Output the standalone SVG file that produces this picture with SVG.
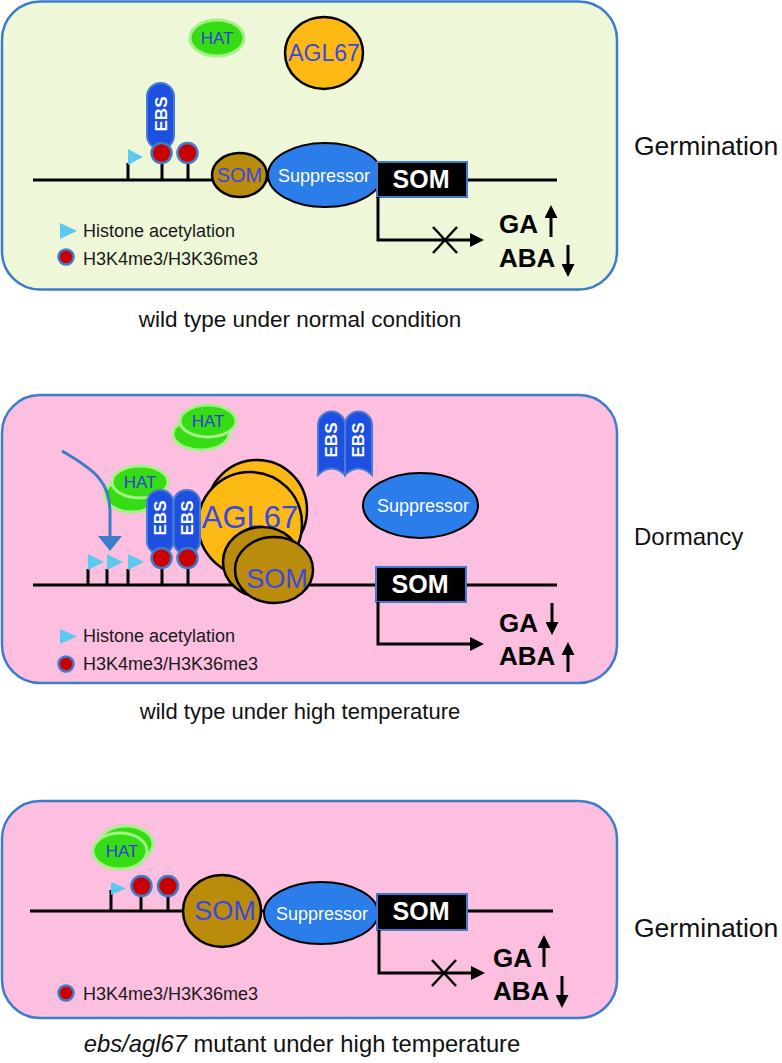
<svg xmlns="http://www.w3.org/2000/svg" width="782" height="1063" viewBox="0 0 782 1063">
<style>
text{font-family:"Liberation Sans",Arial,sans-serif}
.panelA{fill:#eef8d9;stroke:#3d7cc9;stroke-width:2.5}
.panelB{fill:#fcbfdf;stroke:#3d7cc9;stroke-width:2.5}
.hat{fill:#36dd14;stroke:#a6f08a;stroke-width:3}
.hatt{fill:#3040d8;font-size:17px;text-anchor:middle}
.agl{fill:#fdb913;stroke:#000;stroke-width:2.5}
.som{fill:#bb8c0c;stroke:#000;stroke-width:2.5}
.somt{fill:#3848e0;text-anchor:middle}
.sup{fill:#2b7de9;stroke:#000;stroke-width:2}
.supt{fill:#fff;font-size:18px;text-anchor:middle}
.ebs{fill:#1d4fe0;stroke:#4a7bd0;stroke-width:2}
.ebst{fill:#fff;font-size:17px;font-weight:bold;text-anchor:middle}
.me{fill:#c80000;stroke:#3d7cc9;stroke-width:2.5}
.ac{fill:#5bc8f0}
.dna{stroke:#000;stroke-width:3;fill:none}
.box{fill:#000;stroke:#3d7cc9;stroke-width:2}
.boxt{fill:#fff;font-size:25px;font-weight:bold;text-anchor:middle}
.hor{fill:#000;font-size:26px;font-weight:bold}
.leg{fill:#1a1a1a;font-size:18px}
.side{fill:#111}
.cap{fill:#111;text-anchor:middle}
.cx{stroke:#000;stroke-width:2.5}
</style>
<defs>
<marker id="ah" viewBox="0 0 10 10" refX="0" refY="5" markerWidth="14" markerHeight="14" markerUnits="userSpaceOnUse" orient="auto"><path d="M0,0 L10,5 L0,10 Z" fill="#000"/></marker>
<marker id="sh" viewBox="0 0 10 10" refX="0" refY="5" markerWidth="13" markerHeight="13" markerUnits="userSpaceOnUse" orient="auto"><path d="M0,0 L10,5 L0,10 Z" fill="#000"/></marker>
</defs>

<!-- Panel 1 -->
<g id="panel1">
<rect class="panelA" x="2" y="1.5" width="615" height="288" rx="38"/>
</g>
<g id="p1-dna"><line class="dna" x1="33" y1="180" x2="557" y2="180"/>
<line class="dna" x1="128" y1="163" x2="128" y2="180"/>
<line class="dna" x1="162" y1="160" x2="162" y2="180"/>
<line class="dna" x1="188" y1="160" x2="188" y2="180"/></g>
<g id="p1-hat"><ellipse class="hat" cx="217" cy="38" rx="27" ry="18"/><text class="hatt" x="217" y="44">HAT</text></g>
<g id="p1-agl67"><ellipse class="agl" cx="324" cy="53" rx="39" ry="36"/><text class="somt" x="324" y="61" font-size="23">AGL67</text></g>
<g id="p1-ebs"><rect class="ebs" x="147" y="83" width="27" height="66" rx="13.5"/><text class="ebst" transform="translate(167,114) rotate(-90)">EBS</text></g>
<g id="p1-marks"><polygon class="ac" points="128,149 143,157 128,165"/>
<circle class="me" cx="161.5" cy="153" r="10"/><circle class="me" cx="187.5" cy="153" r="10"/></g>
<g id="p1-som"><ellipse class="som" cx="239.5" cy="175" rx="27.5" ry="22"/><text class="somt" x="239.5" y="182" font-size="20">SOM</text></g>
<g id="p1-sup"><ellipse class="sup" cx="325" cy="175" rx="57" ry="32"/><text class="supt" x="324" y="182">Suppressor</text></g>
<g id="p1-gene"><rect class="box" x="377" y="162" width="90" height="35"/><text class="boxt" x="421" y="188">SOM</text></g>
<g id="p1-out"><text class="hor" x="499" y="233">GA</text><text class="hor" x="499" y="267">ABA</text></g>
<g id="p1-legend"><polygon class="ac" points="60,223 77,231 60,239"/><text class="leg" x="83" y="237">Histone acetylation</text>
<circle class="me" cx="66" cy="257" r="7.5"/><text class="leg" x="83" y="265">H3K4me3/H3K36me3</text></g>
<text class="side" x="634" y="155" font-size="26.5">Germination</text>
<text class="cap" x="300" y="327" font-size="22.5">wild type under normal condition</text>

<!-- Panel 2 -->
<g id="panel2"><rect class="panelB" x="2" y="395" width="615" height="288" rx="38"/></g>
<g id="p2-dna"><line class="dna" x1="33" y1="585" x2="557" y2="585"/>
<line class="dna" x1="88" y1="569" x2="88" y2="585"/>
<line class="dna" x1="107" y1="569" x2="107" y2="585"/>
<line class="dna" x1="128" y1="569" x2="128" y2="585"/>
<line class="dna" x1="162" y1="565" x2="162" y2="585"/>
<line class="dna" x1="188" y1="565" x2="188" y2="585"/></g>
<g id="p2-hat1"><ellipse class="hat" cx="201" cy="434" rx="28" ry="16"/><ellipse class="hat" cx="208" cy="421" rx="28" ry="16"/><text class="hatt" x="208" y="427">HAT</text></g>
<g id="p2-hat2"><ellipse class="hat" cx="132" cy="495" rx="27" ry="17"/><ellipse class="hat" cx="140" cy="482" rx="28" ry="16"/><text class="hatt" x="140" y="488">HAT</text></g>
<g id="p2-agl67"><circle class="agl" cx="257" cy="510" r="50"/><circle class="agl" cx="250" cy="524" r="52"/><text class="somt" x="250" y="528" font-size="31">AGL67</text></g>
<g id="p2-ebs"><rect class="ebs" x="147" y="490" width="26.5" height="64" rx="13"/><rect class="ebs" x="173.5" y="490" width="26.5" height="64" rx="13"/>
<text class="ebst" transform="translate(166,518) rotate(-90)">EBS</text><text class="ebst" transform="translate(193,518) rotate(-90)">EBS</text></g>
<g id="p2-marks"><polygon class="ac" points="88,554 104,562 88,570"/><polygon class="ac" points="107,554 123,562 107,570"/><polygon class="ac" points="128,554 144,562 128,570"/>
<circle class="me" cx="161.5" cy="558" r="10"/><circle class="me" cx="187.5" cy="558" r="10"/></g>
<g id="p2-som"><ellipse class="som" cx="262" cy="562" rx="39" ry="35"/><ellipse class="som" cx="274" cy="570" rx="39" ry="33"/><text class="somt" x="277" y="588" font-size="27">SOM</text></g>
<g id="p2-ebsfree"><path class="ebs" d="M318,475 V425 A13.5,13.5 0 0 1 345,425 V475 Q331.5,462 318,475 Z"/><path class="ebs" d="M345,475 V425 A13.5,13.5 0 0 1 372,425 V475 Q358.5,462 345,475 Z"/>
<text class="ebst" transform="translate(337,440) rotate(-90)">EBS</text><text class="ebst" transform="translate(364,440) rotate(-90)">EBS</text></g>
<g id="p2-sup"><ellipse class="sup" cx="420.5" cy="505.5" rx="57.5" ry="32.5"/><text class="supt" x="423" y="512">Suppressor</text></g>
<g id="p2-gene"><rect class="box" x="376" y="567" width="90" height="35"/><text class="boxt" x="420" y="593">SOM</text></g>
<g id="p2-out"><text class="hor" x="499" y="632">GA</text><text class="hor" x="499" y="665">ABA</text></g>
<g id="p2-legend"><polygon class="ac" points="60,629 77,636.5 60,644"/><text class="leg" x="83" y="642">Histone acetylation</text>
<circle class="me" cx="66" cy="664" r="7.5"/><text class="leg" x="83" y="670">H3K4me3/H3K36me3</text></g>
<text class="side" x="634" y="545" font-size="24">Dormancy</text>
<text class="cap" x="300" y="719" font-size="22">wild type under high temperature</text>

<!-- Panel 3 -->
<g id="panel3"><rect class="panelB" x="2" y="801" width="615" height="217" rx="38"/></g>
<g id="p3-dna"><line class="dna" x1="30" y1="911" x2="553" y2="911"/>
<line class="dna" x1="111" y1="890" x2="111" y2="911"/>
<line class="dna" x1="141" y1="892" x2="141" y2="911"/>
<line class="dna" x1="168" y1="892" x2="168" y2="911"/></g>
<g id="p3-hat"><ellipse class="hat" cx="126" cy="844" rx="27" ry="18"/><ellipse class="hat" cx="120" cy="851" rx="27" ry="18"/><text class="hatt" x="122" y="857">HAT</text></g>
<g id="p3-marks"><polygon class="ac" points="111,882 126,888.5 111,895"/>
<circle class="me" cx="141.5" cy="886" r="10"/><circle class="me" cx="168" cy="886" r="10"/></g>
<g id="p3-som"><ellipse class="som" cx="222" cy="911" rx="39" ry="36"/><text class="somt" x="225" y="920" font-size="27">SOM</text></g>
<g id="p3-sup"><ellipse class="sup" cx="321" cy="913" rx="57" ry="31"/><text class="supt" x="322" y="920">Suppressor</text></g>
<g id="p3-gene"><rect class="box" x="377" y="894" width="90" height="36"/><text class="boxt" x="421" y="920">SOM</text></g>
<g id="p3-out"><text class="hor" x="493" y="967">GA</text><text class="hor" x="493" y="1000">ABA</text></g>
<g id="p3-legend"><circle class="me" cx="66" cy="993" r="7.5"/><text class="leg" x="83" y="1000">H3K4me3/H3K36me3</text></g>
<text class="side" x="634" y="937" font-size="26.5">Germination</text>
<text class="cap" x="302" y="1052" font-size="23.8"><tspan font-style="italic">ebs/agl67</tspan> mutant under high temperature</text>

<!-- Connectors -->
<g id="connectors" fill="none">
<path d="M378,197 V240 H470" stroke="#000" stroke-width="3" marker-end="url(#ah)"/>
<line class="cx" x1="433" y1="227" x2="457" y2="253"/><line class="cx" x1="457" y1="227" x2="433" y2="253"/>
<line x1="551" y1="237" x2="551" y2="218" stroke="#000" stroke-width="3" marker-end="url(#sh)"/>
<line x1="568" y1="245" x2="568" y2="264" stroke="#000" stroke-width="3" marker-end="url(#sh)"/>

<path d="M62,451 C95,470 110,482 110,512 V537" stroke="#3d7cc9" stroke-width="3"/>
<polygon points="98,536 122,536 110,551" fill="#3d7cc9"/>
<path d="M378,602 V644 H470" stroke="#000" stroke-width="3" marker-end="url(#ah)"/>
<line x1="552" y1="603" x2="552" y2="622" stroke="#000" stroke-width="3" marker-end="url(#sh)"/>
<line x1="568" y1="672" x2="568" y2="655" stroke="#000" stroke-width="3" marker-end="url(#sh)"/>

<path d="M379,930 V973 H471" stroke="#000" stroke-width="3" marker-end="url(#ah)"/>
<line class="cx" x1="432" y1="960" x2="456" y2="986"/><line class="cx" x1="456" y1="960" x2="432" y2="986"/>
<line x1="544" y1="967" x2="544" y2="948" stroke="#000" stroke-width="3" marker-end="url(#sh)"/>
<line x1="562" y1="976" x2="562" y2="995" stroke="#000" stroke-width="3" marker-end="url(#sh)"/>
</g>
</svg>
